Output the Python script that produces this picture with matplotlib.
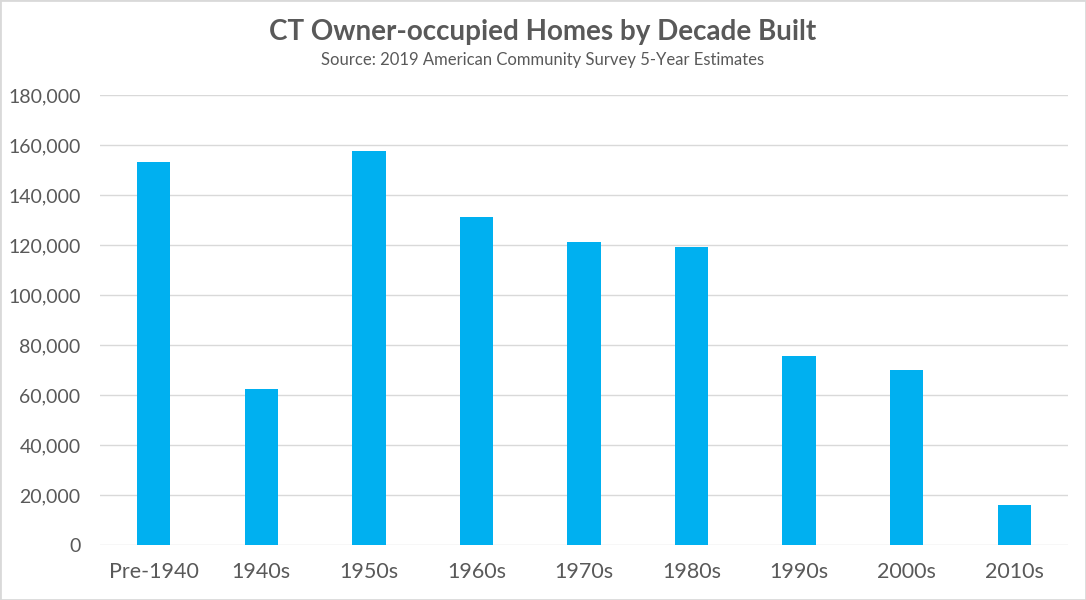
import matplotlib.pyplot as plt
from matplotlib.ticker import FuncFormatter, MultipleLocator
from matplotlib.patches import Rectangle

decades = ["Pre-1940", "1940s", "1950s", "1960s", "1970s", "1980s", "1990s", "2000s", "2010s"]
homes = [153400, 62600, 157600, 131200, 121200, 119200, 75600, 70200, 16000]

plt.rcParams['font.family'] = ['Lato', 'DejaVu Sans']
text_color = "#595959"

fig = plt.figure(figsize=(10.86, 6), dpi=100)
fig.patches.append(Rectangle((0, 0), 1, 1, transform=fig.transFigure,
                             fill=False, edgecolor="#d9d9d9", linewidth=2))

ax = fig.add_axes([100 / 1086, 55 / 600, 968 / 1086, 450 / 600])
ax.bar(range(len(decades)), homes, width=0.31, color="#00B0F0", zorder=3)

ax.set_xlim(-0.5, len(decades) - 0.5)
ax.set_ylim(0, 180000)
ax.yaxis.set_major_locator(MultipleLocator(20000))
ax.yaxis.set_major_formatter(FuncFormatter(lambda v, p: f"{int(v):,}"))
ax.set_xticks(range(len(decades)))
ax.set_xticklabels(decades)
ax.grid(axis="y", color="#d9d9d9", linewidth=1, zorder=0)
for s in ax.spines.values():
    s.set_visible(False)
ax.tick_params(length=0, colors=text_color)
ax.tick_params(axis="x", pad=12, labelsize=15.5)
ax.tick_params(axis="y", pad=14, labelsize=14)

fig.text(0.5, 1 - 32 / 600, "CT Owner-occupied Homes by Decade Built",
         ha="center", va="center", fontsize=20, fontweight="bold", color=text_color)
fig.text(0.5, 1 - 60 / 600, "Source: 2019 American Community Survey 5-Year Estimates",
         ha="center", va="center", fontsize=12, color=text_color)

fig.savefig("out.png", dpi=100)
